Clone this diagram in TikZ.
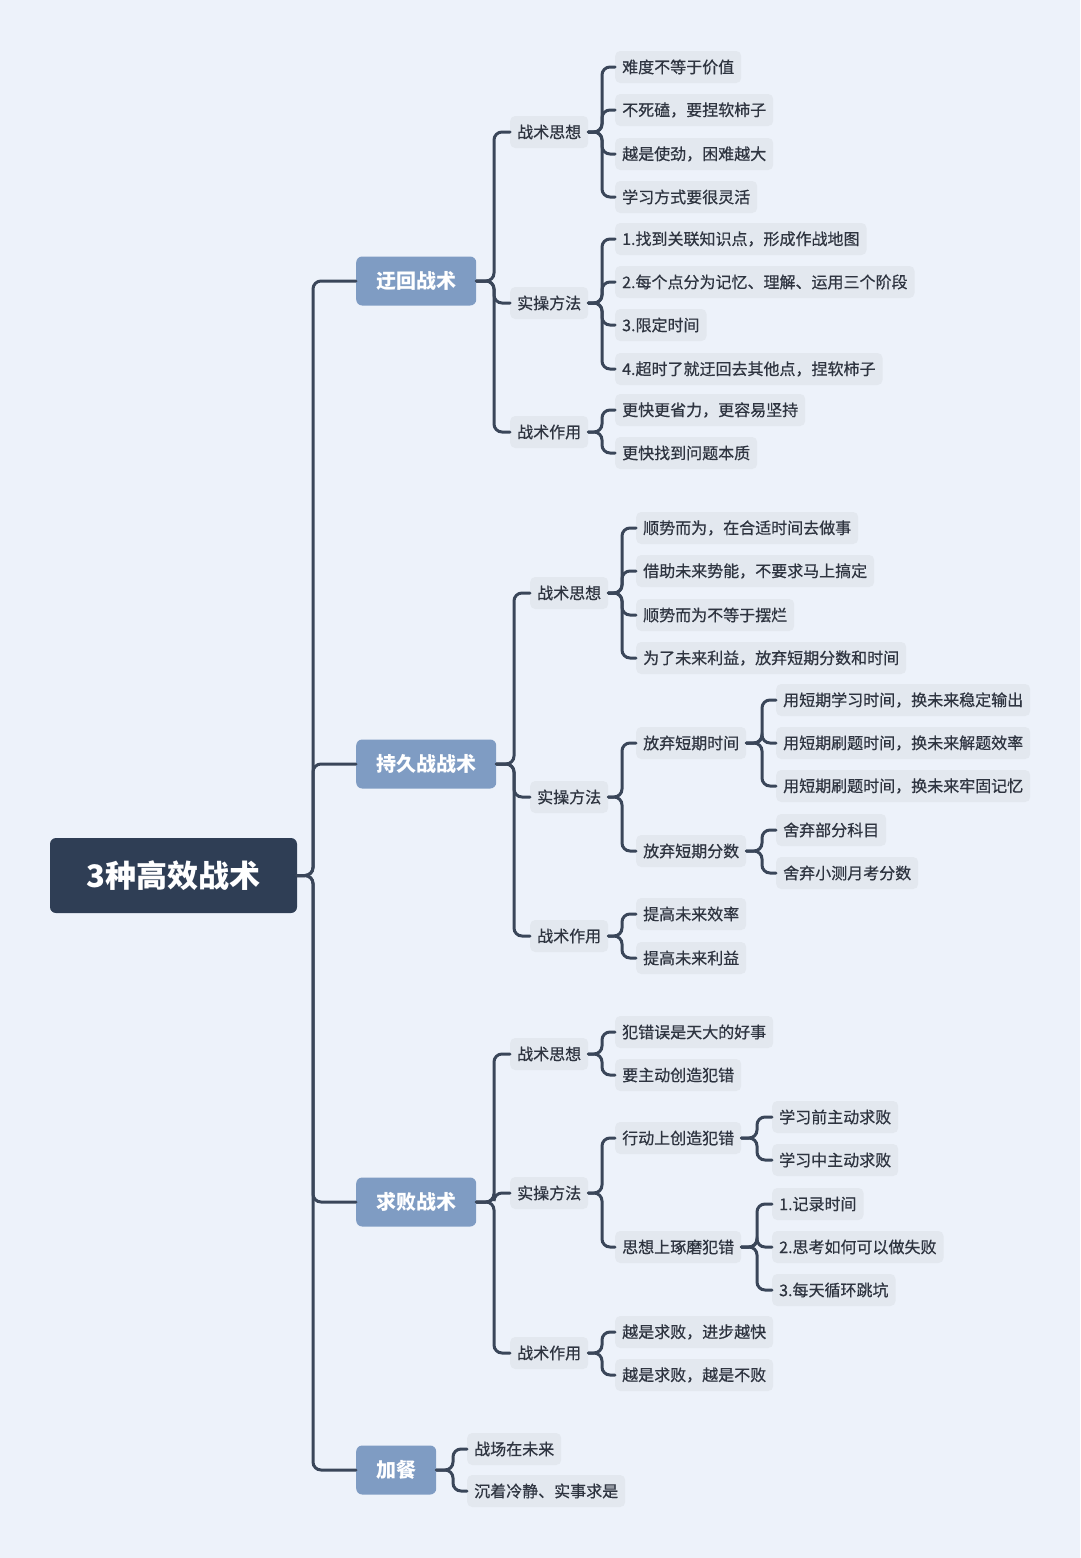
\documentclass[tikz,border=0pt]{standalone}
\usepackage{fontspec}
\newfontfamily\cjk{Noto Sans CJK SC}
\newfontfamily\cjkm[FakeBold=0.6]{Noto Sans CJK SC}
\definecolor{bgc}{HTML}{EDF2FA}
\definecolor{rootc}{HTML}{2F3E55}
\definecolor{lvc}{HTML}{7F9CC3}
\definecolor{leafc}{HTML}{E3E8EF}
\definecolor{linec}{HTML}{3A4659}
\definecolor{txtc}{HTML}{2E3440}
\tikzset{
  rootn/.style={fill=rootc, rounded corners=6pt, text=white, font=\cjk\bfseries\fontsize{31}{37}\selectfont, minimum width=247pt, minimum height=75pt, inner sep=0pt},
  lone/.style={anchor=west, fill=lvc, rounded corners=6pt, text=white, font=\cjk\bfseries\fontsize{20}{24}\selectfont, minimum height=49pt, inner ysep=0pt, inner xsep=20pt},
  leaf/.style={anchor=west, fill=leafc, rounded corners=5pt, text=txtc, font=\cjkm\fontsize{16}{19}\selectfont, minimum height=32pt, inner ysep=0pt, inner xsep=7pt},
  conn/.style={draw=linec, line width=3pt, rounded corners=8pt, line cap=round}
}
\newcommand\lnk[3]{\draw[conn] (#2.west) -- ++(-#3,0) |- (#1.east);}
\begin{document}
\begin{tikzpicture}[x=1pt,y=-1pt]
\fill[bgc] (0,0) rectangle (1080,1558);
\useasboundingbox (0,0) rectangle (1080,1558);

\node[rootn] (r) at (173.5,875.5) {3种高效战术};

% level 1
\node[lone] (a) at (356,281) {迂回战术};
\node[lone] (b) at (356,764) {持久战战术};
\node[lone] (c) at (356,1202) {求败战术};
\node[lone] (d) at (356,1470) {加餐};

% 迂回战术
\node[leaf] (a1) at (510,132) {战术思想};
\node[leaf] (a2) at (510,303) {实操方法};
\node[leaf] (a3) at (510,432) {战术作用};
\node[leaf] (a11) at (615,67) {难度不等于价值};
\node[leaf] (a12) at (615,110) {不死磕，要捏软柿子};
\node[leaf] (a13) at (615,154) {越是使劲，困难越大};
\node[leaf] (a14) at (615,197) {学习方式要很灵活};
\node[leaf] (a21) at (615,239) {1.找到关联知识点，形成作战地图};
\node[leaf] (a22) at (615,282) {2.每个点分为记忆、理解、运用三个阶段};
\node[leaf] (a23) at (615,325) {3.限定时间};
\node[leaf] (a24) at (615,369) {4.超时了就迂回去其他点，捏软柿子};
\node[leaf] (a31) at (615,410) {更快更省力，更容易坚持};
\node[leaf] (a32) at (615,453) {更快找到问题本质};

% 持久战战术
\node[leaf] (b1) at (530,593) {战术思想};
\node[leaf] (b2) at (530,797) {实操方法};
\node[leaf] (b3) at (530,936) {战术作用};
\node[leaf] (b11) at (636,528) {顺势而为，在合适时间去做事};
\node[leaf] (b12) at (636,571) {借助未来势能，不要求马上搞定};
\node[leaf] (b13) at (636,615) {顺势而为不等于摆烂};
\node[leaf] (b14) at (636,658) {为了未来利益，放弃短期分数和时间};
\node[leaf] (b21) at (636,743) {放弃短期时间};
\node[leaf] (b22) at (636,851) {放弃短期分数};
\node[leaf] (b211) at (776,700) {用短期学习时间，换未来稳定输出};
\node[leaf] (b212) at (776,743) {用短期刷题时间，换未来解题效率};
\node[leaf] (b213) at (776,786) {用短期刷题时间，换未来牢固记忆};
\node[leaf] (b221) at (776,830) {舍弃部分科目};
\node[leaf] (b222) at (776,873) {舍弃小测月考分数};
\node[leaf] (b31) at (636,914) {提高未来效率};
\node[leaf] (b32) at (636,958) {提高未来利益};

% 求败战术
\node[leaf] (c1) at (510,1054) {战术思想};
\node[leaf] (c2) at (510,1193) {实操方法};
\node[leaf] (c3) at (510,1353) {战术作用};
\node[leaf] (c11) at (615,1032) {犯错误是天大的好事};
\node[leaf] (c12) at (615,1075) {要主动创造犯错};
\node[leaf] (c21) at (615,1138) {行动上创造犯错};
\node[leaf] (c22) at (615,1247) {思想上琢磨犯错};
\node[leaf] (c211) at (772,1117) {学习前主动求败};
\node[leaf] (c212) at (772,1160) {学习中主动求败};
\node[leaf] (c221) at (772,1204) {1.记录时间};
\node[leaf] (c222) at (772,1247) {2.思考如何可以做失败};
\node[leaf] (c223) at (772,1290) {3.每天循环跳坑};
\node[leaf] (c31) at (615,1332) {越是求败，进步越快};
\node[leaf] (c32) at (615,1375) {越是求败，越是不败};

% 加餐
\node[leaf] (d1) at (467,1449) {战场在未来};
\node[leaf] (d2) at (467,1491) {沉着冷静、实事求是};

% connectors
\foreach \x in {a,b,c,d} {\lnk{r}{\x}{43}}
\foreach \x in {a1,a2,a3} {\lnk{a}{\x}{16}}
\foreach \x in {a11,a12,a13,a14} {\lnk{a1}{\x}{13}}
\foreach \x in {a21,a22,a23,a24} {\lnk{a2}{\x}{13}}
\foreach \x in {a31,a32} {\lnk{a3}{\x}{13}}
\foreach \x in {b1,b2,b3} {\lnk{b}{\x}{16}}
\foreach \x in {b11,b12,b13,b14} {\lnk{b1}{\x}{14}}
\foreach \x in {b21,b22} {\lnk{b2}{\x}{14}}
\foreach \x in {b211,b212,b213} {\lnk{b21}{\x}{14}}
\foreach \x in {b221,b222} {\lnk{b22}{\x}{14}}
\foreach \x in {b31,b32} {\lnk{b3}{\x}{14}}
\foreach \x in {c1,c2,c3} {\lnk{c}{\x}{16}}
\foreach \x in {c11,c12} {\lnk{c1}{\x}{13}}
\foreach \x in {c21,c22} {\lnk{c2}{\x}{13}}
\foreach \x in {c211,c212} {\lnk{c21}{\x}{15}}
\foreach \x in {c221,c222,c223} {\lnk{c22}{\x}{15}}
\foreach \x in {c31,c32} {\lnk{c3}{\x}{13}}
\foreach \x in {d1,d2} {\lnk{d}{\x}{14}}
\end{tikzpicture}
\end{document}
